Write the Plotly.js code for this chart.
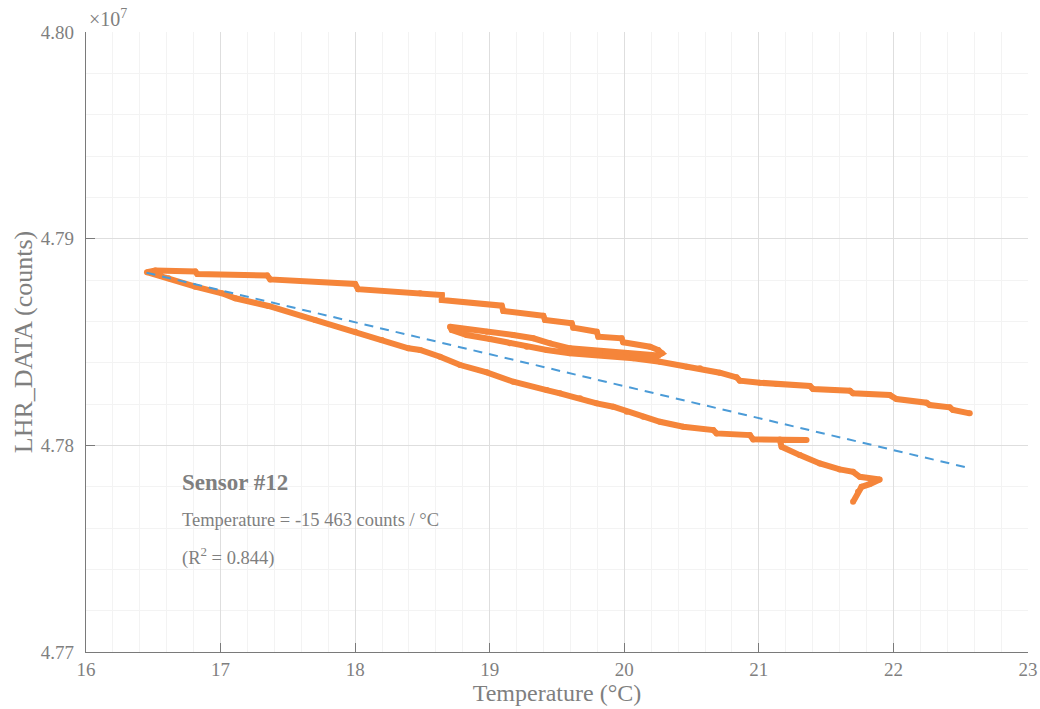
<!DOCTYPE html>
<html>
<head>
<meta charset="utf-8">
<script src="https://cdn.plot.ly/plotly-3.0.1.min.js"></script>
<style>html,body{margin:0;padding:0;background:#fff;}#chart{width:1040px;height:709px;}</style>
</head>
<body>
<div id="chart"></div>
<script>
// Measured sensor path (temperature in °C, LHR_DATA in units of 1e7 counts)
const tempC = [
  21.700, 21.737, 21.763, 21.824, 21.898, 21.750, 21.700, 21.601, 21.453, 21.304, 21.169, 21.156, 21.354, 21.156,
  20.958, 20.933, 20.686, 20.661, 20.438, 20.265, 20.141, 20.018, 19.918, 19.795, 19.671, 19.522, 19.423, 19.175,
  18.978, 18.780, 18.631, 18.483, 18.396, 18.198, 18.000, 17.703, 17.356, 17.109, 17.010, 16.812, 16.613, 16.515, 16.453,
  16.515, 16.812, 16.827, 17.346, 17.369, 18.000, 18.022, 18.483, 18.644, 18.644, 19.089, 19.101, 19.398, 19.411,
  19.609, 19.621, 19.795, 19.807, 19.980, 19.992, 20.191, 20.252, 20.280,
  20.252, 20.018, 19.819, 19.596, 19.448, 19.324, 19.175, 18.978, 18.705,
  18.718, 18.829, 19.002, 19.151, 19.275, 19.423, 19.596, 19.819, 20.067, 20.265, 20.463, 20.562, 20.710, 20.834,
  20.859, 21.007, 21.131, 21.379, 21.403, 21.676, 21.700, 21.973, 22.023, 22.245, 22.270, 22.418, 22.443, 22.567
];
const lhrData = [
  4.777265, 4.777750, 4.777992, 4.778123, 4.778350, 4.778476, 4.778718, 4.778835, 4.779125, 4.779527, 4.779929, 4.780254, 4.780254, 4.780288,
  4.780288, 4.780496, 4.780578, 4.780738, 4.780898, 4.781140, 4.781382, 4.781624, 4.781867, 4.782031, 4.782273, 4.782516, 4.782675, 4.783077,
  4.783533, 4.783886, 4.784288, 4.784613, 4.784695, 4.785097, 4.785499, 4.786066, 4.786744, 4.787117, 4.787359, 4.787679, 4.788085, 4.788294, 4.788376,
  4.788463, 4.788415, 4.788294, 4.788221, 4.788027, 4.787809, 4.787553, 4.787359, 4.787277, 4.787034, 4.786758, 4.786502, 4.786274, 4.786066,
  4.785906, 4.785693, 4.785499, 4.785257, 4.785179, 4.784986, 4.784773, 4.784613, 4.784453,
  4.784346, 4.784453, 4.784564, 4.784695, 4.784937, 4.785179, 4.785339, 4.785499, 4.785741,
  4.785581, 4.785339, 4.785146, 4.784937, 4.784773, 4.784613, 4.784453, 4.784371, 4.784211, 4.784046, 4.783804, 4.783726, 4.783513, 4.783291,
  4.783126, 4.783029, 4.782966, 4.782869, 4.782724, 4.782642, 4.782516, 4.782433, 4.782240, 4.782060, 4.781949, 4.781838, 4.781707, 4.781547
];
// Linear fit endpoints (slope -15 463 counts / °C)
const fitTemp = [16.45, 22.57];
const fitLhr = [4.788352, 4.778889];

const yTickVals = [4.77, 4.78, 4.79, 4.80];
const yTickText = ['4.77', '4.78', '4.79', '4.80'];
const xTickVals = [16, 17, 18, 19, 20, 21, 22, 23];

const sensorName = 'Sensor #12';
const fitText = 'Temperature = -15 463 counts / °C';
const r2Text = '(R<sup>2</sup> = 0.844)';

const FONT = 'Liberation Serif, Times New Roman, serif';
const GREY = '#7f7f7f';

const traces = [
  {
    x: tempC, y: lhrData, type: 'scatter', mode: 'lines+markers',
    line: {color: '#F5853A', width: 6},
    marker: {color: '#F5853A', size: 6},
    hoverinfo: 'skip', showlegend: false
  },
  {
    x: fitTemp, y: fitLhr, type: 'scatter', mode: 'lines',
    line: {color: '#4B9BD7', width: 2, dash: '9px,7px'},
    hoverinfo: 'skip', showlegend: false
  }
];

const layout = {
  width: 1040, height: 709,
  margin: {l: 86, r: 12, t: 32, b: 57},
  paper_bgcolor: '#ffffff', plot_bgcolor: '#ffffff',
  font: {family: FONT, color: GREY, size: 19},
  showlegend: false,
  xaxis: {
    range: [16, 23], tickvals: xTickVals, ticks: 'inside', ticklen: 9, tickcolor: '#7a7a7a', tickwidth: 1,
    showline: true, linecolor: '#7a7a7a', linewidth: 1.3, zeroline: false,
    showgrid: true, gridcolor: '#dedede', gridwidth: 1,
    minor: {dtick: 0.2, showgrid: true, gridcolor: '#f3f3f3', gridwidth: 1},
    tickfont: {family: FONT, size: 19, color: GREY},
    ticklabelstandoff: 0,
    title: {text: 'Temperature (°C)', font: {family: FONT, size: 24, color: GREY}, standoff: 0}
  },
  yaxis: {
    range: [4.77, 4.80], tickvals: yTickVals, ticktext: yTickText, ticks: 'inside', ticklen: 9, tickcolor: '#7a7a7a', tickwidth: 1,
    showline: true, linecolor: '#7a7a7a', linewidth: 1.3, zeroline: false,
    showgrid: true, gridcolor: '#dedede', gridwidth: 1,
    minor: {dtick: 0.002, showgrid: true, gridcolor: '#f3f3f3', gridwidth: 1},
    tickfont: {family: FONT, size: 19, color: GREY},
    ticklabelstandoff: 7,
    title: {text: 'LHR_DATA (counts)', font: {family: FONT, size: 26, color: GREY}, standoff: 0}
  },
  annotations: [
    {xref: 'paper', yref: 'paper', x: 0.001, y: 1.0, xanchor: 'left', yanchor: 'bottom', yshift: 0,
     text: '×10<sup>7</sup>', showarrow: false, font: {family: FONT, size: 20, color: GREY}},
    {xref: 'x', yref: 'y', x: 16.7, y: 4.7782, xanchor: 'left', yanchor: 'middle',
     text: '<b>' + sensorName + '</b>', showarrow: false, font: {family: FONT, size: 23, color: GREY}},
    {xref: 'x', yref: 'y', x: 16.7, y: 4.7764, xanchor: 'left', yanchor: 'middle',
     text: fitText, showarrow: false, font: {family: FONT, size: 18.5, color: GREY}},
    {xref: 'x', yref: 'y', x: 16.7, y: 4.77462, xanchor: 'left', yanchor: 'middle',
     text: r2Text, showarrow: false, font: {family: FONT, size: 18.5, color: GREY}}
  ]
};

Plotly.newPlot('chart', traces, layout, {displayModeBar: false, staticPlot: true});
</script>
</body>
</html>
